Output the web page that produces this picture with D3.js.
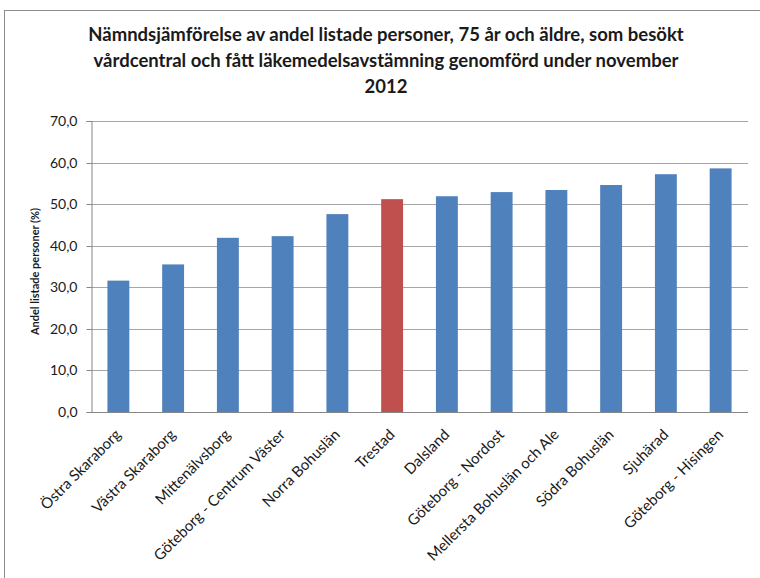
<!DOCTYPE html>
<html>
<head>
<meta charset="utf-8">
<script src="https://cdn.jsdelivr.net/npm/d3@7"></script>
<style>
  html, body { margin: 0; padding: 0; background: #ffffff; }
  svg { display: block; }
</style>
</head>
<body>
<div id="chart"></div>
<script>
// Nämnder, sorted by share
const categories = [
  "Östra Skaraborg", "Västra Skaraborg", "Mittenälvsborg", "Göteborg - Centrum Väster",
  "Norra Bohuslän", "Trestad", "Dalsland", "Göteborg - Nordost",
  "Mellersta Bohuslän och Ale", "Södra Bohuslän", "Sjuhärad", "Göteborg - Hisingen"
];
const values = [31.6, 35.5, 41.9, 42.3, 47.6, 51.2, 51.9, 52.9, 53.4, 54.6, 57.2, 58.6];
const highlighted = ["Trestad"];
const yTicks = [0, 10, 20, 30, 40, 50, 60, 70];
const titleLines = [
  "Nämndsjämförelse av andel listade personer, 75 år och äldre, som besökt",
  "vårdcentral och fått läkemedelsavstämning genomförd under november",
  "2012"
];
const yTitle = "Andel listade personer (%)";

const W = 760, H = 578;
const margin = { left: 91, right: 12, top: 121, bottom: 166 };
const fontFamily = "Lato, 'Open Sans', sans-serif";

const svg = d3.select("#chart").append("svg")
  .attr("width", W).attr("height", H)
  .style("font-family", fontFamily);

// chart area frame
svg.append("rect")
  .attr("x", 4.5).attr("y", 10.5)
  .attr("width", W + 10).attr("height", H + 10)
  .attr("fill", "#ffffff")
  .attr("stroke", "#8c8c8c").attr("stroke-width", 1);

const x = d3.scaleBand()
  .domain(categories)
  .range([margin.left, W - margin.right])
  .paddingInner(0.6).paddingOuter(0.3);

const y = d3.scaleLinear()
  .domain([0, 70])
  .range([H - margin.bottom, margin.top]);

// gridlines
svg.append("g")
  .selectAll("line")
  .data(yTicks.filter(d => d > 0))
  .join("line")
  .attr("x1", margin.left).attr("x2", W - margin.right)
  .attr("y1", d => Math.round(y(d)) + 0.5).attr("y2", d => Math.round(y(d)) + 0.5)
  .attr("stroke", "#a6a6a6").attr("stroke-width", 1);

// y axis
const yAxis = svg.append("g")
  .attr("transform", `translate(${margin.left + 0.5},0)`)
  .call(d3.axisLeft(y).tickValues(yTicks).tickSize(5).tickPadding(9)
    .tickFormat(d => d3.format(".1f")(d).replace(".", ",")));
yAxis.select(".domain").attr("stroke", "#868686");
yAxis.selectAll(".tick line").attr("stroke", "#868686");
yAxis.selectAll(".tick").attr("transform", d => `translate(0,${Math.round(y(d)) + 0.5})`);
yAxis.selectAll(".tick text")
  .attr("fill", "#1a1a1a")
  .style("font-size", "14px").style("font-weight", "400")
  .style("font-family", fontFamily);

// bars
svg.append("g")
  .selectAll("rect")
  .data(categories.map((c, i) => ({ c, v: values[i] })))
  .join("rect")
  .attr("x", d => x(d.c))
  .attr("width", x.bandwidth())
  .attr("y", d => y(d.v))
  .attr("height", d => y(0) - y(d.v))
  .attr("fill", d => highlighted.includes(d.c) ? "#c0504d" : "#4f81bd");

// x axis baseline
svg.append("line")
  .attr("x1", margin.left).attr("x2", W - margin.right)
  .attr("y1", Math.round(y(0)) + 0.5).attr("y2", Math.round(y(0)) + 0.5)
  .attr("stroke", "#868686");

// category labels, rotated
svg.append("g")
  .selectAll("text")
  .data(categories)
  .join("text")
  .attr("transform", d => `translate(${x(d) + x.bandwidth() / 2 + 3.5},${y(0) + 23.5}) rotate(-45)`)
  .attr("text-anchor", "end")
  .attr("fill", "#1a1a1a")
  .style("font-size", "15px")
  .text(d => d);

// y axis title
svg.append("text")
  .attr("transform", `translate(39,${(y(0) + y(70)) / 2 + 5}) rotate(-90)`)
  .attr("text-anchor", "middle")
  .attr("fill", "#1a1a1a")
  .style("font-size", "11px").style("font-weight", "700")
  .text(yTitle);

// title
svg.append("g")
  .selectAll("text")
  .data(titleLines)
  .join("text")
  .attr("x", 386)
  .attr("y", (d, i) => 41 + i * 26)
  .attr("text-anchor", "middle")
  .attr("fill", "#1a1a1a")
  .style("font-size", "18.5px").style("font-weight", "700")
  .text(d => d);
</script>
</body>
</html>
